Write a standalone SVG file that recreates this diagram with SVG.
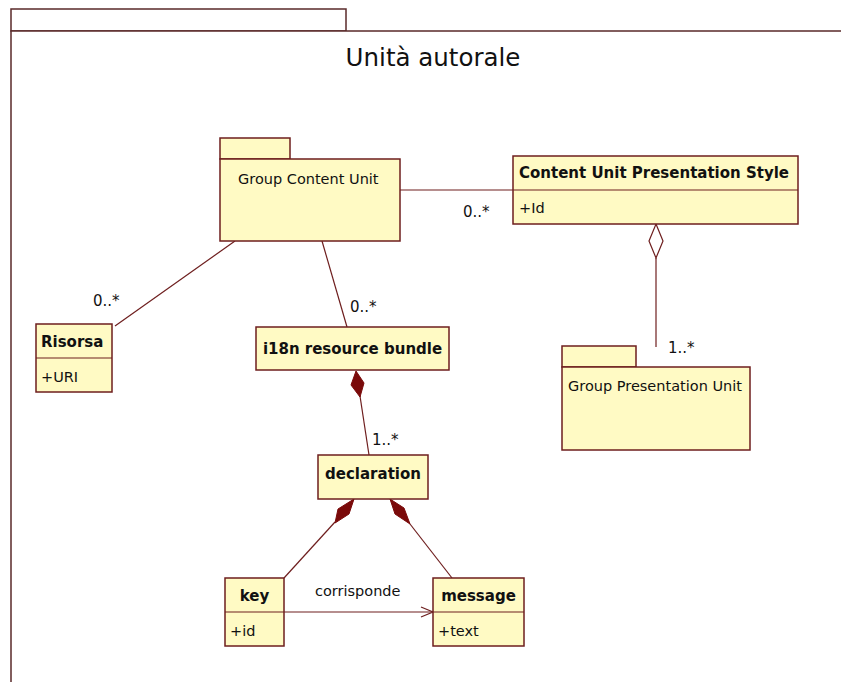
<svg xmlns="http://www.w3.org/2000/svg" width="841" height="682" viewBox="0 0 841 682">
  <defs>
    <style>
      .box { fill: #fffac4; stroke: #6e1e1e; stroke-width: 1.5; }
      .frame { fill: #ffffff; stroke: #5a2a2a; stroke-width: 1.5; }
      .edge { fill: none; stroke: #6e1e1e; stroke-width: 1.2; }
      .t { font-family: "DejaVu Sans", "Liberation Sans", sans-serif; font-size: 14.5px; fill: #111; }
      .b { font-family: "DejaVu Sans", "Liberation Sans", sans-serif; font-size: 15px; font-weight: bold; fill: #111; }
      .lbl { font-family: "DejaVu Sans", "Liberation Sans", sans-serif; font-size: 15px; fill: #111; }
      .comp { fill: #7a0a0a; stroke: #7a0a0a; stroke-width: 1; }
      .agg { fill: #ffffff; stroke: #6e1e1e; stroke-width: 1.2; }
    </style>
    <marker id="open" markerWidth="14" markerHeight="12" refX="13" refY="6" orient="auto" markerUnits="userSpaceOnUse">
      <path d="M1,1 L13,6 L1,11" fill="none" stroke="#6e1e1e" stroke-width="1.2"/>
    </marker>
  </defs>

  <rect width="841" height="682" fill="#ffffff"/>

  <!-- enclosing package -->
  <g id="pkg-unita-autorale">
    <rect class="frame" x="11" y="9" width="335" height="22"/>
    <rect class="frame" x="11" y="31" width="900" height="700"/>
    <text x="433" y="66" text-anchor="middle" font-family="DejaVu Sans, Liberation Sans, sans-serif" font-size="24.5" fill="#111">Unità autorale</text>
  </g>

  <!-- connectors -->
  <g id="connectors">
    <line class="edge" x1="400" y1="190" x2="513" y2="190"/>
    <line class="edge" x1="235" y1="241" x2="115" y2="326"/>
    <line class="edge" x1="322" y1="241" x2="347" y2="327"/>
    <!-- composition: bundle -> declaration -->
    <line class="edge" x1="360" y1="396" x2="369" y2="455"/>
    <path class="comp" d="M356,371 L364,383 L360,397 L351,385 Z"/>
    <!-- aggregation: style -> presentation unit -->
    <line class="edge" x1="656" y1="258" x2="656" y2="347"/>
    <path class="agg" d="M656,224 L663,241 L656,258 L649,241 Z"/>
    <!-- composition: declaration -> key -->
    <line class="edge" x1="335" y1="522" x2="284" y2="578"/>
    <path class="comp" d="M354,499 L349,514 L335,523 L338,509 Z"/>
    <!-- composition: declaration -> message -->
    <line class="edge" x1="410" y1="524" x2="452" y2="578"/>
    <path class="comp" d="M390,499 L404,508 L410,524 L395,514 Z"/>
    <!-- key corresponds to message -->
    <line class="edge" x1="284" y1="612" x2="433" y2="612" marker-end="url(#open)"/>

    <text class="lbl" x="463" y="217">0..*</text>
    <text class="lbl" x="93" y="306">0..*</text>
    <text class="lbl" x="350" y="312">0..*</text>
    <text class="lbl" x="372" y="445">1..*</text>
    <text class="lbl" x="668" y="353">1..*</text>
    <text class="t" x="315" y="596">corrisponde</text>
  </g>

  <g id="group-content-unit">
    <rect class="box" x="220" y="138" width="70" height="21"/>
    <rect class="box" x="220" y="159" width="180" height="82"/>
    <text class="t" x="238" y="184">Group Content Unit</text>
  </g>

  <g id="content-unit-presentation-style">
    <rect class="box" x="513" y="156" width="285" height="68"/>
    <line class="edge" x1="513" y1="190" x2="798" y2="190"/>
    <text class="b" x="519" y="178">Content Unit Presentation Style</text>
    <text class="t" x="519" y="213">+Id</text>
  </g>

  <g id="risorsa">
    <rect class="box" x="36" y="324" width="76" height="68"/>
    <line class="edge" x1="36" y1="358" x2="112" y2="358"/>
    <text class="b" x="41" y="347">Risorsa</text>
    <text class="t" x="41" y="382">+URI</text>
  </g>

  <g id="i18n-resource-bundle">
    <rect class="box" x="256" y="327" width="193" height="43"/>
    <text class="b" x="352.5" y="354" text-anchor="middle">i18n resource bundle</text>
  </g>

  <g id="group-presentation-unit">
    <rect class="box" x="562" y="346" width="74" height="21"/>
    <rect class="box" x="562" y="367" width="188" height="83"/>
    <text class="t" x="568" y="391">Group Presentation Unit</text>
  </g>

  <g id="declaration">
    <rect class="box" x="318" y="455" width="110" height="44"/>
    <text class="b" x="373" y="479" text-anchor="middle">declaration</text>
  </g>

  <g id="key">
    <rect class="box" x="225" y="578" width="59" height="68"/>
    <line class="edge" x1="225" y1="612" x2="284" y2="612"/>
    <text class="b" x="254.5" y="601" text-anchor="middle">key</text>
    <text class="t" x="230" y="636">+id</text>
  </g>

  <g id="message">
    <rect class="box" x="433" y="578" width="91" height="68"/>
    <line class="edge" x1="433" y1="612" x2="524" y2="612"/>
    <text class="b" x="478.5" y="601" text-anchor="middle">message</text>
    <text class="t" x="438" y="636">+text</text>
  </g>
</svg>
